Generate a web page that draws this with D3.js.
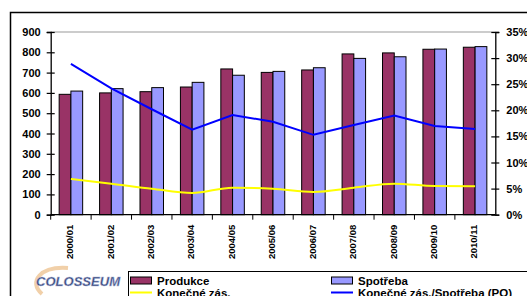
<!DOCTYPE html>
<html>
<head>
<meta charset="utf-8">
<script src="https://cdn.jsdelivr.net/npm/d3@7"></script>
<style>
body { margin: 0; background: #fff; }
text { font-family: "Liberation Sans", Arial, sans-serif; font-weight: bold; }
</style>
</head>
<body>
<div id="chart"></div>
<script>
// data
var years = ["2000/01","2001/02","2002/03","2003/04","2004/05","2005/06","2006/07","2007/08","2008/09","2009/10","2010/11"];
var produkce = [593, 600, 606, 629, 718, 701, 713, 792, 797, 815, 825];
var spotreba = [609, 621, 626, 652, 687, 706, 724, 770, 778, 816, 828];
var konecneZas = [176, 153, 128, 107, 133, 128, 112, 133, 153, 141, 140];
var pomer = [28.9, 24.2, 20.2, 16.3, 19.1, 17.8, 15.3, 17.2, 19.0, 17.0, 16.4];
var leftTicks = [0, 100, 200, 300, 400, 500, 600, 700, 800, 900];
var rightTicks = [0, 5, 10, 15, 20, 25, 30, 35];

var width = 527, height = 296;
var plotLeft = 50.7, plotRight = 495.3, plotTop = 32, plotBottom = 214.7;

var svg = d3.select("#chart").append("svg")
	.attr("width", width)
	.attr("height", height);

// outer frame
svg.append("path")
	.attr("d", "M10.5," + height + "V12.5H" + width)
	.attr("fill", "none")
	.attr("stroke", "#000")
	.attr("stroke-width", 1.5);

var x = d3.scaleBand().domain(years).range([plotLeft, plotRight]).padding(0);
var x1 = d3.scaleBand().domain(["p", "s"]).range([0, x.bandwidth()]).paddingInner(0).paddingOuter(0.72);
var y = d3.scaleLinear().domain([0, 900]).range([plotBottom, plotTop]);
var y2 = d3.scaleLinear().domain([0, 35]).range([plotBottom, plotTop]);

// top border line of plot
svg.append("line")
	.attr("x1", plotLeft).attr("x2", plotRight)
	.attr("y1", y(900)).attr("y2", y(900))
	.attr("stroke", "#999").attr("stroke-width", 1.2);

// bars
var groups = svg.selectAll(".yr")
	.data(years)
	.enter().append("g")
	.attr("class", "yr")
	.attr("transform", function (d) { return "translate(" + x(d) + ",0)"; });

groups.append("rect")
	.attr("x", x1("p"))
	.attr("y", function (d, i) { return y(produkce[i]); })
	.attr("width", x1.bandwidth())
	.attr("height", function (d, i) { return plotBottom - y(produkce[i]); })
	.attr("fill", "#993366")
	.attr("stroke", "#000").attr("stroke-width", 1);

groups.append("rect")
	.attr("x", x1("s"))
	.attr("y", function (d, i) { return y(spotreba[i]); })
	.attr("width", x1.bandwidth())
	.attr("height", function (d, i) { return plotBottom - y(spotreba[i]); })
	.attr("fill", "#9999FF")
	.attr("stroke", "#000").attr("stroke-width", 1);

// lines
var cx = function (i) { return x(years[i]) + x.bandwidth() / 2; };

svg.append("path")
	.datum(konecneZas)
	.attr("fill", "none")
	.attr("stroke", "#FFFF00")
	.attr("stroke-width", 2)
	.attr("d", d3.line()
		.x(function (d, i) { return cx(i); })
		.y(function (d) { return y(d); })
		.curve(d3.curveMonotoneX));

svg.append("path")
	.datum(pomer)
	.attr("fill", "none")
	.attr("stroke", "#0000FF")
	.attr("stroke-width", 2)
	.attr("d", d3.line()
		.x(function (d, i) { return cx(i); })
		.y(function (d) { return y2(d); }));

// axes
var axL = svg.append("g")
	.attr("transform", "translate(" + plotLeft + ",0)")
	.call(d3.axisLeft(y).tickValues(leftTicks).tickSize(4).tickPadding(6));
axL.selectAll(".tick line").attr("x2", 4).attr("x1", -4);

var axR = svg.append("g")
	.attr("transform", "translate(" + plotRight + ",0)")
	.call(d3.axisRight(y2).tickValues(rightTicks).tickSize(4).tickPadding(7)
		.tickFormat(function (d) { return d + "%"; }));
axR.selectAll(".tick line").attr("x1", -4).attr("x2", 4);

var axB = svg.append("g")
	.attr("transform", "translate(0," + plotBottom + ")")
	.call(d3.axisBottom(x).tickSize(0).tickPadding(0));
axB.selectAll(".tick text")
	.attr("transform", "rotate(-90)")
	.attr("x", -10).attr("y", -1).attr("dy", "0.35em")
	.style("text-anchor", "end")
	.style("font-size", "9.5px");
// category boundary ticks
axB.selectAll(".bt")
	.data(years)
	.enter().append("line")
	.attr("class", "bt")
	.attr("x1", function (d) { return x(d); })
	.attr("x2", function (d) { return x(d); })
	.attr("y1", 0).attr("y2", 5)
	.attr("stroke", "#000");

[axL, axR, axB].forEach(function (a) {
	a.selectAll(".domain").attr("stroke", "#000").attr("stroke-width", 1.3);
	a.selectAll(".tick line").attr("stroke", "#000").attr("stroke-width", 1.2);
	a.selectAll("text").attr("fill", "#000").style("font-family", "Liberation Sans, Arial, sans-serif").style("font-weight", "bold");
});
axL.selectAll("text").style("font-size", "11px");
axR.selectAll("text").style("font-size", "11px");
axB.select(".domain").attr("d", "M" + plotLeft + ",0H" + plotRight);

// legend
var lg = svg.append("g");
lg.append("rect")
	.attr("x", 128.5).attr("y", 271.5)
	.attr("width", 420).attr("height", 40)
	.attr("fill", "#fff").attr("stroke", "#000");

var legendItems = [
	{name: "Produkce", kind: "bar", color: "#993366", x: 130, row: 0},
	{name: "Spotřeba", kind: "bar", color: "#9999FF", x: 331, row: 0},
	{name: "Konečné zás.", kind: "line", color: "#FFFF00", x: 130, row: 1},
	{name: "Konečné zás./Spotřeba (PO)", kind: "line", color: "#0000FF", x: 331, row: 1}
];
legendItems.forEach(function (d) {
	var yy = 280.5 + d.row * 12;
	if (d.kind == "bar") {
		lg.append("rect").attr("x", d.x + 0.5).attr("y", yy - 3.5).attr("width", 21).attr("height", 7)
			.attr("fill", d.color).attr("stroke", "#000");
	} else {
		lg.append("line").attr("x1", d.x).attr("x2", d.x + 22).attr("y1", yy).attr("y2", yy)
			.attr("stroke", d.color).attr("stroke-width", 2);
	}
	lg.append("text").attr("x", d.x + 27).attr("y", yy + 4.5)
		.style("font-size", "11.5px").text(d.name);
});

// logo
var logo = svg.append("g");
logo.append("path")
	.attr("d", "M42,294 C28,282 40,266 68,268")
	.attr("fill", "none").attr("stroke", "#e8b070").attr("stroke-width", 4).attr("opacity", 0.6);
logo.append("text")
	.attr("x", 36).attr("y", 286)
	.style("font-size", "13px").style("font-style", "italic")
	.attr("fill", "#34467a").attr("stroke", "#b0b8d8").attr("stroke-width", 0.5)
	.attr("textLength", 84)
	.text("COLOSSEUM");
</script>
</body>
</html>
